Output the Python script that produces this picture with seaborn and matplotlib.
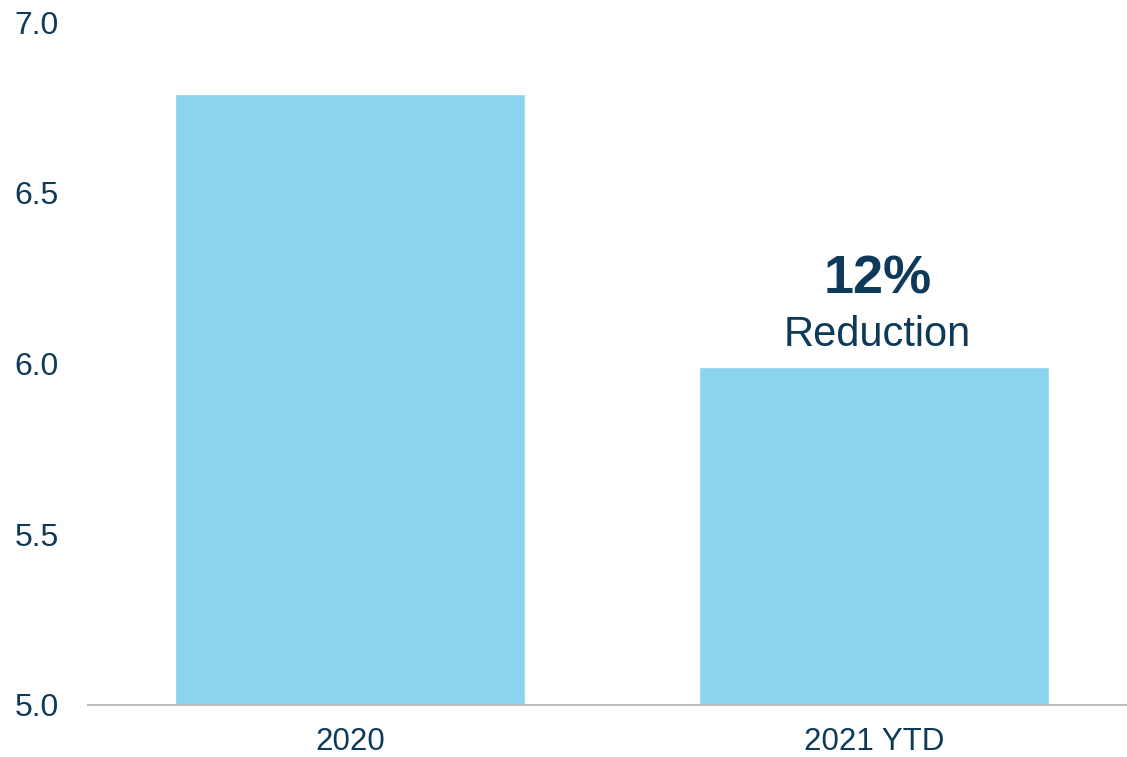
import matplotlib
matplotlib.use("Agg")
import matplotlib.pyplot as plt
import seaborn as sns
import pandas as pd

# Chart data
categories = ["2020", "2021 YTD"]
values = [6.79, 5.99]
y_ticks = [5.0, 5.5, 6.0, 6.5, 7.0]

BAR_COLOR = "#8AD4EE"
TEXT_COLOR = "#0E3A5A"
AXIS_COLOR = "#BFBFBF"

sns.set_theme(style="white")
plt.rcParams["font.family"] = ["Liberation Sans", "DejaVu Sans"]

df = pd.DataFrame({"period": categories, "value": values})

fig = plt.figure(figsize=(11.27, 7.57), dpi=100)
ax = fig.add_axes([88 / 1127, 52 / 757, (1136 - 88) / 1127, (705 - 22) / 757])

sns.barplot(data=df, x="period", y="value", color=BAR_COLOR, saturation=1,
            width=0.668, ax=ax)

ax.set_ylim(5.0, 7.0)
ax.set_xlim(-0.5, 1.5)
ax.set_yticks(y_ticks)
ax.set_yticklabels([f"{t:.1f}" for t in y_ticks])
ax.set_xlabel("")
ax.set_ylabel("")

for side in ["top", "right", "left"]:
    ax.spines[side].set_visible(False)
ax.spines["bottom"].set_color(AXIS_COLOR)
ax.spines["bottom"].set_linewidth(1.5)

ax.tick_params(axis="y", length=0, pad=21, labelsize=23, labelcolor=TEXT_COLOR)
ax.tick_params(axis="x", length=0, pad=16, labelsize=22.5, labelcolor=TEXT_COLOR)
ax.grid(False)

# Reduction annotation above the second bar
reduction = (values[0] - values[1]) / values[0] * 100
ax.annotate(f"{reduction:.0f}%", xy=(1, values[1]), xytext=(3, 52.5),
            textcoords="offset points", ha="center", va="baseline",
            fontsize=39, fontweight="bold", color=TEXT_COLOR)
ax.annotate("Reduction", xy=(1, values[1]), xytext=(2, 15),
            textcoords="offset points", ha="center", va="baseline",
            fontsize=30, color=TEXT_COLOR)

fig.savefig("out.png", dpi=100)
